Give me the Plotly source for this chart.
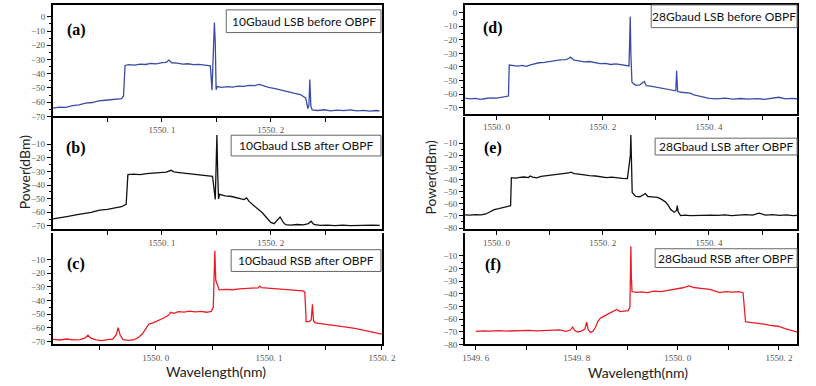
import plotly.graph_objects as go

# ---------------- data (wavelength nm, power dBm) ----------------
A_WL = [1550.000, 1550.006, 1550.012, 1550.018, 1550.024, 1550.030, 1550.036, 1550.042, 1550.048, 1550.054, 1550.059, 1550.063, 1550.0648,
        1550.0662, 1550.070, 1550.075, 1550.080, 1550.085, 1550.090, 1550.095, 1550.100, 1550.104, 1550.1065, 1550.109, 1550.114, 1550.119, 1550.124, 1550.129, 1550.134, 1550.139, 1550.1445,
        1550.1460, 1550.1475, 1550.1482, 1550.1490, 1550.1498, 1550.1508,
        1550.155, 1550.160, 1550.165, 1550.170, 1550.175, 1550.180, 1550.185, 1550.1895, 1550.193, 1550.198, 1550.204, 1550.210, 1550.216, 1550.222, 1550.227, 1550.2305,
        1550.2320, 1550.2340, 1550.2350, 1550.2358, 1550.2368, 1550.2380,
        1550.243, 1550.249, 1550.255, 1550.261, 1550.267, 1550.273, 1550.279, 1550.285, 1550.291, 1550.297, 1550.300]
A_PW = [-64.2, -63.4, -63.6, -62.4, -61.8, -60.6, -60.2, -59.1, -58.6, -58.3, -57.9, -57.4, -55.6,
        -34.2, -33.6, -34.0, -33.2, -33.5, -32.8, -33.1, -32.2, -32.0, -30.4, -32.3, -32.6, -33.2, -33.0, -33.6, -33.4, -34.0, -34.4,
        -51.6, -22.0, -4.0, -18.0, -51.2, -49.0,
        -49.6, -49.0, -49.4, -48.7, -48.9, -48.2, -48.3, -47.5, -48.6, -49.6, -50.4, -51.7, -52.6, -53.8, -54.6, -56.2,
        -57.0, -64.5, -62.0, -44.0, -63.0, -65.4,
        -65.8, -65.3, -66.1, -65.6, -65.9, -65.4, -66.0, -65.7, -66.2, -65.8, -66.0]

B_WL = [1550.000, 1550.007, 1550.014, 1550.021, 1550.028, 1550.035, 1550.043, 1550.050, 1550.057, 1550.063, 1550.0672,
        1550.0688, 1550.074, 1550.080, 1550.086, 1550.092, 1550.098, 1550.104, 1550.1085, 1550.111, 1550.116, 1550.122, 1550.128, 1550.134, 1550.140, 1550.1465,
        1550.1490, 1550.1498, 1550.1505, 1550.1512, 1550.1520,
        1550.1530, 1550.158, 1550.164, 1550.170, 1550.1755, 1550.1778, 1550.1800, 1550.1840, 1550.1880, 1550.1920, 1550.1960, 1550.2000, 1550.2030, 1550.2060, 1550.2085, 1550.2110, 1550.2135,
        1550.218, 1550.224, 1550.230, 1550.2345, 1550.2370, 1550.2395, 1550.245, 1550.252, 1550.259, 1550.266, 1550.273, 1550.280, 1550.287, 1550.294, 1550.300]
B_PW = [-64.8, -63.6, -62.9, -61.9, -61.2, -60.0, -58.4, -57.9, -56.8, -55.9, -54.2,
        -32.4, -32.0, -32.3, -31.6, -31.2, -30.8, -30.5, -29.2, -30.4, -30.9, -31.5, -31.9, -32.4, -32.8, -33.6,
        -50.5, -30.0, -3.3, -30.0, -50.2,
        -46.8, -47.9, -48.4, -49.3, -50.6, -49.4, -52.0, -54.8, -57.2, -60.1, -63.8, -67.4, -68.3, -66.0, -63.4, -66.8, -69.0,
        -69.3, -68.9, -69.2, -68.2, -66.5, -68.8, -69.6, -69.3, -69.7, -69.4, -69.8, -69.5, -69.7, -69.4, -69.6]

C_WL = [1549.909, 1549.915, 1549.921, 1549.927, 1549.933, 1549.9375, 1549.9400, 1549.9425, 1549.947, 1549.952, 1549.957, 1549.962, 1549.9650, 1549.9667, 1549.9685, 1549.9710, 1549.976, 1549.980, 1549.984, 1549.988, 1549.9915, 1549.9940, 1549.998, 1550.0026, 1550.007, 1550.0115, 1550.0130, 1550.0160, 1550.0200, 1550.025, 1550.030, 1550.035, 1550.040, 1550.045, 1550.0490, 1550.0508,
        1550.0515, 1550.0522, 1550.0530,
        1550.056, 1550.062, 1550.068, 1550.074, 1550.080, 1550.086, 1550.0905, 1550.0918, 1550.0935, 1550.099, 1550.105, 1550.111, 1550.117, 1550.123, 1550.1300, 1550.1318,
        1550.1330, 1550.1360, 1550.1375, 1550.1385, 1550.1395, 1550.1410,
        1550.146, 1550.152, 1550.158, 1550.164, 1550.170, 1550.176, 1550.182, 1550.188, 1550.194, 1550.200]
C_PW = [-68.4, -68.9, -68.2, -68.8, -68.6, -67.4, -65.4, -67.6, -68.8, -69.3, -68.7, -68.2, -65.0, -59.8, -65.5, -68.6, -69.2, -68.9, -67.4, -64.6, -60.2, -57.2, -56.2, -54.6, -52.8, -50.6, -48.6, -49.4, -48.2, -48.5, -47.8, -48.3, -48.0, -48.6, -47.9, -45.2,
        -20.0, -3.5, -25.0,
        -32.2, -31.8, -32.1, -31.5, -31.2, -30.9, -30.7, -29.4, -30.6, -30.9, -31.3, -31.8, -32.2, -32.6, -32.9, -33.8,
        -55.6, -55.2, -54.0, -42.8, -55.0, -56.3,
        -56.8, -57.3, -58.1, -58.7, -59.6, -60.4, -61.4, -62.3, -63.5, -64.6]

D_WL = [1549.940, 1549.950, 1549.960, 1549.970, 1549.980, 1549.990, 1550.000, 1550.010, 1550.018, 1550.0225,
        1550.0240, 1550.032, 1550.040, 1550.048, 1550.056, 1550.064, 1550.072, 1550.080, 1550.090, 1550.100, 1550.110, 1550.120, 1550.130, 1550.136, 1550.139, 1550.146, 1550.155, 1550.165, 1550.175, 1550.185, 1550.195, 1550.205, 1550.215, 1550.225, 1550.235, 1550.243, 1550.2495,
        1550.2508, 1550.2518, 1550.2530,
        1550.2550, 1550.262, 1550.270, 1550.2785, 1550.282, 1550.290, 1550.300, 1550.310, 1550.320, 1550.330, 1550.3375, 1550.3392, 1550.3410,
        1550.348, 1550.356, 1550.3645, 1550.372, 1550.380, 1550.390, 1550.400, 1550.415, 1550.430, 1550.445, 1550.460, 1550.475, 1550.490, 1550.505, 1550.520, 1550.531, 1550.545, 1550.556, 1550.566]
D_PW = [-63.0, -63.6, -63.2, -63.9, -63.3, -62.8, -63.1, -62.4, -62.0, -61.5,
        -38.6, -38.9, -39.4, -38.8, -39.6, -38.4, -37.6, -36.9, -36.6, -35.9, -35.4, -34.8, -34.6, -33.8, -32.8, -34.9, -35.5, -36.2, -36.0, -36.8, -37.6, -37.4, -38.2, -37.8, -38.6, -38.9, -39.3,
        -20.0, -2.7, -30.0,
        -51.3, -53.6, -53.2, -50.8, -53.9, -54.2, -54.8, -55.6, -56.3, -57.0, -57.6, -42.8, -58.2,
        -58.7, -59.3, -59.4, -60.6, -61.3, -62.6, -63.2, -63.6, -63.1, -63.8, -63.3, -63.7, -63.4, -63.9, -63.3, -62.4, -63.6, -63.2, -63.5]

E_WL = [1549.940, 1549.950, 1549.960, 1549.971, 1549.980, 1549.988, 1549.9957, 1550.004, 1550.012, 1550.0203, 1550.0265,
        1550.0280, 1550.036, 1550.044, 1550.052, 1550.060, 1550.0634, 1550.068, 1550.0757, 1550.084, 1550.092, 1550.100, 1550.1065, 1550.114, 1550.122, 1550.130, 1550.136, 1550.1403, 1550.146, 1550.155, 1550.165, 1550.175, 1550.1865, 1550.197, 1550.207, 1550.217, 1550.227, 1550.237, 1550.2465,
        1550.2520, 1550.2530, 1550.2542,
        1550.2555, 1550.262, 1550.270, 1550.2801, 1550.285, 1550.293, 1550.3034, 1550.311, 1550.3189, 1550.324, 1550.3281, 1550.3343, 1550.3390, 1550.3404, 1550.3420,
        1550.3466, 1550.355, 1550.365, 1550.378, 1550.391, 1550.404, 1550.417, 1550.430, 1550.443, 1550.456, 1550.469, 1550.482, 1550.4944, 1550.507, 1550.520, 1550.533, 1550.546, 1550.558, 1550.566]
E_PW = [-69.1, -69.4, -69.0, -69.2, -68.4, -66.7, -64.8, -64.0, -63.2, -62.1, -61.6,
        -38.5, -38.8, -38.2, -37.9, -38.4, -37.1, -38.0, -38.6, -37.4, -37.0, -36.6, -36.2, -35.8, -35.4, -35.0, -34.6, -33.9, -35.1, -35.6, -36.4, -36.8, -37.1, -37.9, -38.4, -38.0, -38.8, -39.0, -39.3,
        -20.0, -3.3, -30.0,
        -50.7, -53.9, -54.2, -51.5, -54.0, -54.3, -54.7, -56.4, -58.8, -61.8, -64.8, -67.0, -65.5, -61.5, -66.5,
        -69.7, -69.4, -69.8, -69.5, -69.8, -69.3, -69.6, -69.2, -69.7, -69.4, -68.9, -69.3, -67.8, -69.4, -69.0, -69.5, -69.2, -69.7, -69.5]

F_WL = [1549.600, 1549.615, 1549.630, 1549.645, 1549.660, 1549.675, 1549.690, 1549.705, 1549.720, 1549.735, 1549.750, 1549.7657, 1549.7786, 1549.7870, 1549.7916, 1549.7960, 1549.8013, 1549.8090, 1549.8160, 1549.8194, 1549.8225, 1549.8272, 1549.8320, 1549.8369, 1549.8420, 1549.8466, 1549.8540, 1549.8627, 1549.8700, 1549.8790, 1549.8854, 1549.8930, 1549.9016, 1549.9050,
        1549.9062, 1549.9070, 1549.9080,
        1549.9093, 1549.918, 1549.928, 1549.9404, 1549.952, 1549.9664, 1549.978, 1549.9986, 1550.010, 1550.0213, 1550.032, 1550.045, 1550.0635, 1550.0829, 1550.095, 1550.108, 1550.120, 1550.1290,
        1550.1340, 1550.142, 1550.152, 1550.162, 1550.171, 1550.180, 1550.190, 1550.2000, 1550.2122, 1550.222, 1550.230, 1550.2369]
F_PW = [-69.6, -69.2, -69.5, -69.0, -69.4, -69.1, -69.3, -68.9, -69.2, -68.8, -69.0, -68.4, -69.7, -68.6, -66.2, -69.0, -70.2, -69.4, -67.8, -62.3, -68.4, -70.5, -69.6, -66.4, -61.5, -59.2, -57.6, -55.8, -54.8, -52.4, -54.0, -53.6, -53.2, -50.6,
        -25.0, -2.5, -28.0,
        -38.2, -38.9, -38.5, -39.0, -37.8, -38.2, -37.4, -36.4, -35.2, -33.8, -35.0, -35.6, -36.4, -39.0, -38.2, -38.6, -38.3, -39.1,
        -62.0, -62.6, -63.0, -63.5, -64.0, -64.8, -65.2, -65.8, -67.4, -68.6, -69.4, -70.3]

PANEL_LETTERS = ["(a)", "(b)", "(c)", "(d)", "(e)", "(f)"]
PANEL_TITLES = ["10Gbaud LSB before OBPF", "10Gbaud LSB after OBPF", "10Gbaud RSB after OBPF",
                "28Gbaud LSB before OBPF", "28Gbaud LSB after OBPF", "28Gbaud RSB after OBPF"]
X_TICKS_AB = [1550.1, 1550.2]
X_TICKS_C = [1550.0, 1550.1, 1550.2]
X_TICKS_DE = [1550.0, 1550.2, 1550.4]
X_TICKS_F = [1549.6, 1549.8, 1550.0, 1550.2]
X_MINOR_AB = [1550.05, 1550.15, 1550.25]
X_MINOR_C = [1549.95, 1550.05, 1550.15]
X_MINOR_DE = [1550.1, 1550.3, 1550.5]
X_MINOR_F = [1549.7, 1549.9, 1550.1]
Y_TICKS_A = [0, -10, -20, -30, -40, -50, -60, -70]
Y_TICKS_BC = [-10, -20, -30, -40, -50, -60, -70]
Y_TICKS_D = [0, -10, -20, -30, -40, -50, -60, -70]
Y_TICKS_EF = [-10, -20, -30, -40, -50, -60, -70, -80]

# ---------------- styling / geometry ----------------
W, H = 816, 386
BLUE = "#3a4ca8"
BLACK = "#111111"
RED = "#ec1c24"

def fx(p):
    return p / W

def fy(p):
    return 1 - p / H

def tick_label(v):
    s = f"{v:.1f}"
    return s.replace(".", ". ")

panels = [
    (A_WL, A_PW, BLUE, (51, 387), (5, 118), (1550.0, 1550.302), (-70, 8.3), X_TICKS_AB, X_MINOR_AB, Y_TICKS_A, True),
    (B_WL, B_PW, BLACK, (51, 387), (119, 232), (1550.0, 1550.302), (-72.2, 9.5), X_TICKS_AB, X_MINOR_AB, Y_TICKS_BC, False),
    (C_WL, C_PW, RED, (51, 387), (236, 349), (1549.909, 1550.2), (-72.2, 9.5), X_TICKS_C, X_MINOR_C, Y_TICKS_BC, False),
    (D_WL, D_PW, BLUE, (472, 811), (5, 115), (1549.941, 1550.566), (-74.4, 5.8), X_TICKS_DE, X_MINOR_DE, Y_TICKS_D, True),
    (E_WL, E_PW, BLACK, (472, 811), (119, 232), (1549.941, 1550.566), (-80.8, 11.2), X_TICKS_DE, X_MINOR_DE, Y_TICKS_EF, False),
    (F_WL, F_PW, RED, (472, 811), (236, 349), (1549.579, 1550.236), (-80.0, 8.1), X_TICKS_F, X_MINOR_F, Y_TICKS_EF, False),
]

fig = go.Figure()
layout = dict(
    width=W, height=H, autosize=False,
    margin=dict(l=0, r=0, t=0, b=0),
    paper_bgcolor="white", plot_bgcolor="white",
    showlegend=False,
)

TICKFONT = dict(family="Liberation Serif, DejaVu Serif, serif", size=9, color="#555555")

for i, (wl, pw, col, xd, yd, xr, yr, xt, xm, yt, topline) in enumerate(panels):
    n = "" if i == 0 else str(i + 1)
    fig.add_trace(go.Scatter(x=wl, y=pw, mode="lines", line=dict(color=col, width=1.3),
                             xaxis="x" + n, yaxis="y" + n, hoverinfo="skip"))
    xticks_all = sorted(xt + xm)
    xtext = [tick_label(v) if v in xt else "" for v in xticks_all]
    layout["xaxis" + n] = dict(
        domain=[fx(xd[0]), fx(xd[1])], anchor="y" + n, range=list(xr),
        showline=True, linecolor="black", linewidth=2, mirror=topline,
        ticks="outside", ticklen=4, tickwidth=1, tickcolor="black",
        tickvals=xticks_all, ticktext=xtext, tickfont=TICKFONT,
        showgrid=False, zeroline=False, fixedrange=True,
    )
    ymin = [v - 5 for v in yt if v - 5 >= yr[0]]
    layout["yaxis" + n] = dict(
        domain=[fy(yd[1]), fy(yd[0])], anchor="x" + n, range=list(yr),
        showline=True, linecolor="black", linewidth=2, mirror=True,
        ticks="outside", ticklen=4, tickwidth=1, tickcolor="black",
        tickvals=yt, ticktext=[f"\u2212{abs(v)}" if v < 0 else str(v) for v in yt],
        tickfont=TICKFONT,
        minor=dict(tickvals=ymin, ticks="outside", ticklen=2, tickcolor="black"),
        showgrid=False, zeroline=False, fixedrange=True,
    )

fig.update_layout(**layout)

# panel letters
letter_pos = [(75, 30), (75, 150), (75, 267), (500, 28), (500, 150), (500, 268)]
for letter, (lx, ly) in zip(PANEL_LETTERS, letter_pos):
    fig.add_annotation(x=fx(lx), y=fy(ly), xref="paper", yref="paper", showarrow=False,
                       text=f"<b>{letter}</b>", xanchor="center", yanchor="middle",
                       font=dict(family="Liberation Serif, DejaVu Serif, serif", size=16, color="black"))

# label boxes
boxes = [(228, 386, 10, 33), (233, 386, 137, 158), (233, 386, 253, 275),
         (662, 811, 5, 28), (666, 811, 140, 157), (666, 811, 252, 271)]
for title, (x0, x1, y0, y1) in zip(PANEL_TITLES, boxes):
    fig.add_shape(type="rect", xref="paper", yref="paper",
                  x0=fx(x0), x1=fx(x1), y0=fy(y1), y1=fy(y0),
                  line=dict(color="#666666", width=1), fillcolor="white", layer="above")
    fig.add_annotation(x=fx((x0 + x1) / 2), y=fy((y0 + y1) / 2), xref="paper", yref="paper",
                       showarrow=False, text=title, xanchor="center", yanchor="middle",
                       font=dict(family="Lato, Open Sans, sans-serif", size=12, color="#111111"))

# axis titles
AXFONT = dict(family="Lato, Noto Sans, sans-serif", size=14, color="#222222")
fig.add_annotation(x=fx(22), y=fy(175), xref="paper", yref="paper", showarrow=False,
                   text="Power(dBm)", textangle=-90, font=AXFONT, xanchor="center", yanchor="middle")
fig.add_annotation(x=fx(437), y=fy(180), xref="paper", yref="paper", showarrow=False,
                   text="Power(dBm)", textangle=-90, font=AXFONT, xanchor="center", yanchor="middle")
fig.add_annotation(x=fx(218), y=fy(376), xref="paper", yref="paper", showarrow=False,
                   text="Wavelength(nm)", font=AXFONT, xanchor="center", yanchor="middle",
                   borderpad=0)
fig.add_annotation(x=fx(648), y=fy(377), xref="paper", yref="paper", showarrow=False,
                   text="Wavelength(nm)", font=AXFONT, xanchor="center", yanchor="middle",
                   borderpad=0)

fig.write_html("out.html", config={"displayModeBar": False})
